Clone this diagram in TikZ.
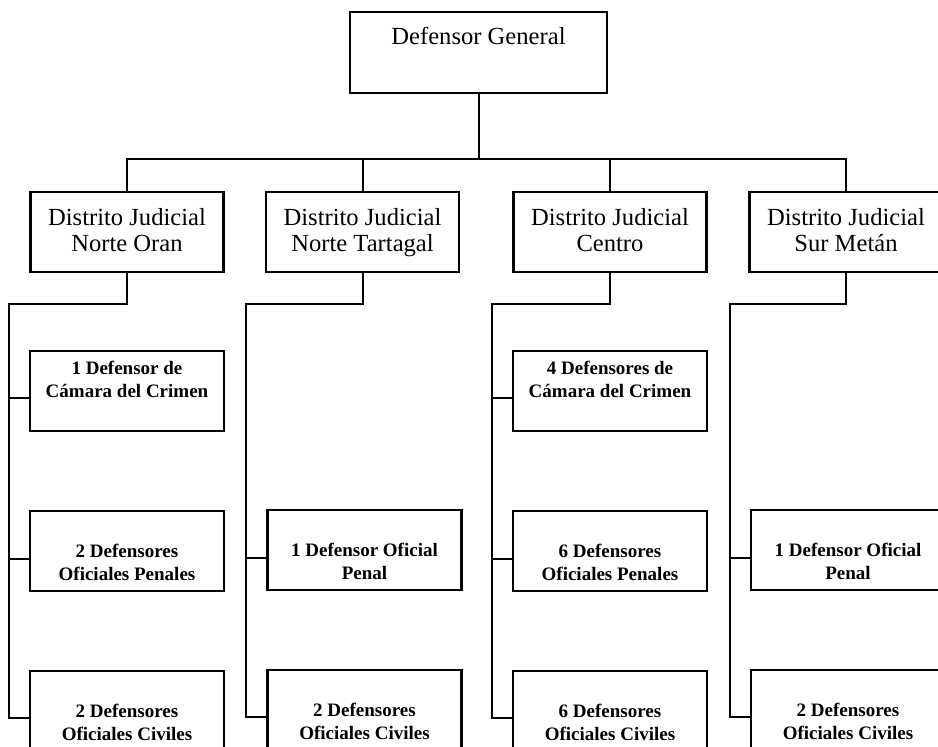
\documentclass[tikz,border=0pt]{standalone}
\usepackage{fontspec}
\setmainfont{Liberation Serif}
\usepackage{tikz}
\usetikzlibrary{positioning}
\tikzset{
  chiefbox/.style={
    rectangle,
    draw=black,
    line width=1.2pt,
    align=center,
    minimum width=128.5pt,
    inner ysep=0pt,
    text height=16.25pt,
    text depth=24.25pt,
    font=\fontsize{12.3}{13}\selectfont
  },
  distbox/.style={
    rectangle,
    draw=black,
    line width=1.2pt,
    align=center,
    minimum width=96.5pt,
    inner ysep=0pt,
    text height=30pt,
    text depth=10pt,
    font=\fontsize{12.3}{13}\selectfont
  },
  unitbox/.style={
    rectangle,
    draw=black,
    line width=1.2pt,
    align=center,
    minimum width=97pt,
    inner ysep=0pt,
    text height=34.75pt,
    text depth=5.25pt,
    font=\fontsize{9.5}{11.5}\selectfont\bfseries
  },
  unittop/.style={
    unitbox,
    text height=23.5pt,
    text depth=16.5pt
  },
  orgline/.style={line width=1pt}
}
\begin{document}
\begin{tikzpicture}[x=0.5pt,y=-0.5pt]
  \clip (0,0) rectangle (938,747);
  % head and districts
  \node[chiefbox] (gen) at (478.5,52.5) {Defensor General};
  \node[distbox] (d1) at (127,232) {Distrito Judicial\\Norte Oran};
  \node[distbox] (d2) at (362.5,232) {Distrito Judicial\\Norte Tartagal};
  \node[distbox] (d3) at (610,232) {Distrito Judicial\\Centro};
  \node[distbox] (d4) at (846,232) {Distrito Judicial\\Sur Metán};
  % defensores per district
  \node[unittop, below=38.3pt of d1] (u11) {1 Defensor de\\Cámara del Crimen};
  \node[unitbox, below=38.8pt of u11] (u12) {2 Defensores\\Oficiales Penales};
  \node[unitbox, below=38.8pt of u12] (u13) {2 Defensores\\Oficiales Civiles};
  \node[unitbox, below=117.8pt of d2, xshift=1pt] (u22) {1 Defensor Oficial\\Penal};
  \node[unitbox, below=38.8pt of u22] (u23) {2 Defensores\\Oficiales Civiles};
  \node[unittop, below=38.3pt of d3] (u31) {4 Defensores de\\Cámara del Crimen};
  \node[unitbox, below=38.8pt of u31] (u32) {6 Defensores\\Oficiales Penales};
  \node[unitbox, below=38.8pt of u32] (u33) {6 Defensores\\Oficiales Civiles};
  \node[unitbox, below=117.8pt of d4, xshift=1pt] (u42) {1 Defensor Oficial\\Penal};
  \node[unitbox, below=38.8pt of u42] (u43) {2 Defensores\\Oficiales Civiles};
  % top bus
  \draw[orgline] (gen.south) -- ++(0,65) coordinate (bus);
  \draw[orgline] (d1.north) |- (bus) -| (d4.north);
  \draw[orgline] (d2.north) -- (d2.north |- bus);
  \draw[orgline] (d3.north) -- (d3.north |- bus);
  % district trunks
  \draw[orgline] (d1.south) -- ++(0,31) -| ([xshift=-10pt,yshift=-3.5pt]u13.west) -- ([yshift=-3.5pt]u13.west);
  \draw[orgline] (d2.south) -- ++(0,31) -| ([xshift=-10pt,yshift=-3.5pt]u23.west) -- ([yshift=-3.5pt]u23.west);
  \draw[orgline] (d3.south) -- ++(0,31) -| ([xshift=-10pt,yshift=-3.5pt]u33.west) -- ([yshift=-3.5pt]u33.west);
  \draw[orgline] (d4.south) -- ++(0,31) -| ([xshift=-10pt,yshift=-3.5pt]u43.west) -- ([yshift=-3.5pt]u43.west);
  % stubs
  \draw[orgline] ([xshift=-10pt,yshift=-3.75pt]u11.west) -- ([yshift=-3.75pt]u11.west);
  \draw[orgline] ([xshift=-10pt,yshift=-4pt]u12.west) -- ([yshift=-4pt]u12.west);
  \draw[orgline] ([xshift=-10pt,yshift=-4pt]u22.west) -- ([yshift=-4pt]u22.west);
  \draw[orgline] ([xshift=-10pt,yshift=-3.75pt]u31.west) -- ([yshift=-3.75pt]u31.west);
  \draw[orgline] ([xshift=-10pt,yshift=-4pt]u32.west) -- ([yshift=-4pt]u32.west);
  \draw[orgline] ([xshift=-10pt,yshift=-4pt]u42.west) -- ([yshift=-4pt]u42.west);
\end{tikzpicture}
\end{document}
